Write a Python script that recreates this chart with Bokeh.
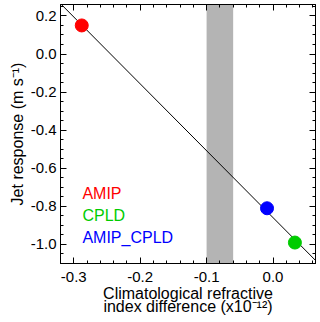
import numpy as np
from bokeh.plotting import figure
from bokeh.models import (Range1d, LinearAxis, SingleIntervalTicker, PrintfTickFormatter,
                          BoxAnnotation, Label)
from bokeh.embed import file_html
from bokeh.resources import INLINE

# ---- data ----
models = ["AMIP", "CPLD", "AMIP_CPLD"]
refr_diff = [-0.288, 0.033, -0.009]      # climatological refractive index difference (x1e-12)
jet_resp = [0.15, -0.99, -0.81]          # jet response (m/s)
colors = ["#ff0000", "#00cc00", "#0000ff"]
band_lo, band_hi = -0.10, -0.06          # shaded band
x_lims = (-0.32, 0.064)
y_lims = (-1.10, 0.26)

FONT = "Liberation Sans"

p = figure(width=320, height=322, output_backend="svg", toolbar_location=None,
           x_range=Range1d(*x_lims), y_range=Range1d(*y_lims),
           x_axis_type=None, y_axis_type=None,
           min_border_left=60, min_border_right=5, min_border_top=4, min_border_bottom=59)
p.grid.visible = False
p.outline_line_color = "black"
p.outline_line_width = 1

xt = SingleIntervalTicker(interval=0.1, num_minor_ticks=5)
yt = SingleIntervalTicker(interval=0.2, num_minor_ticks=4)
fmt = PrintfTickFormatter(format="%.1f")

def style(ax, labels=True):
    ax.axis_line_color = "black"
    ax.major_tick_line_color = "black"
    ax.minor_tick_line_color = "black"
    ax.major_tick_in = 6
    ax.major_tick_out = 0
    ax.minor_tick_in = 3
    ax.minor_tick_out = 0
    ax.major_label_text_font = FONT
    ax.axis_label_text_font = FONT
    ax.axis_label_text_font_style = "normal"
    ax.axis_label_text_color = "black"
    if labels:
        ax.major_label_text_color = "black"
        ax.major_label_text_font_size = "15px"
        ax.axis_label_text_font_size = "16px"
        ax.major_label_standoff = 4
        ax.axis_label_standoff = 2
    else:
        ax.major_label_text_color = None
        ax.major_label_standoff = 0
        ax.axis_label_standoff = 0

xb = LinearAxis(ticker=xt, formatter=fmt,
                axis_label="Climatological refractive\nindex difference (x10\u207b\u00b9\u00b2)")
style(xb)
xb.major_label_standoff = 8
xb.axis_label_standoff = 0
xb.axis_label_text_line_height = 0.8
p.add_layout(xb, "below")

yl = LinearAxis(ticker=yt, formatter=fmt, axis_label="Jet response (m s\u207b\u00b9)")
style(yl)
p.add_layout(yl, "left")

xtop = LinearAxis(ticker=xt, formatter=fmt)
style(xtop, labels=False)
p.add_layout(xtop, "above")

yr = LinearAxis(ticker=yt, formatter=fmt)
style(yr, labels=False)
p.add_layout(yr, "right")

# shaded band
p.add_layout(BoxAnnotation(left=band_lo, right=band_hi, fill_color="#b4b4b4",
                           fill_alpha=1.0, line_alpha=0, level="underlay"))

# regression line across the full x range
slope, icpt = np.polyfit(refr_diff, jet_resp, 1)
xs = np.array(x_lims)
p.line(xs, slope * xs + icpt, line_color="black", line_width=1)

# points
p.scatter(refr_diff, jet_resp, size=13, fill_color=colors, line_color=colors)

# legend texts
leg_x = -0.287
leg_y = [-0.73, -0.846, -0.964]
for name, c, yy in zip(models, colors, leg_y):
    p.add_layout(Label(x=leg_x, y=yy, text=name, text_color=c, text_font=FONT,
                       text_font_size="16px", text_baseline="middle", text_align="left"))

open("out.html", "w").write(file_html(p, INLINE))
